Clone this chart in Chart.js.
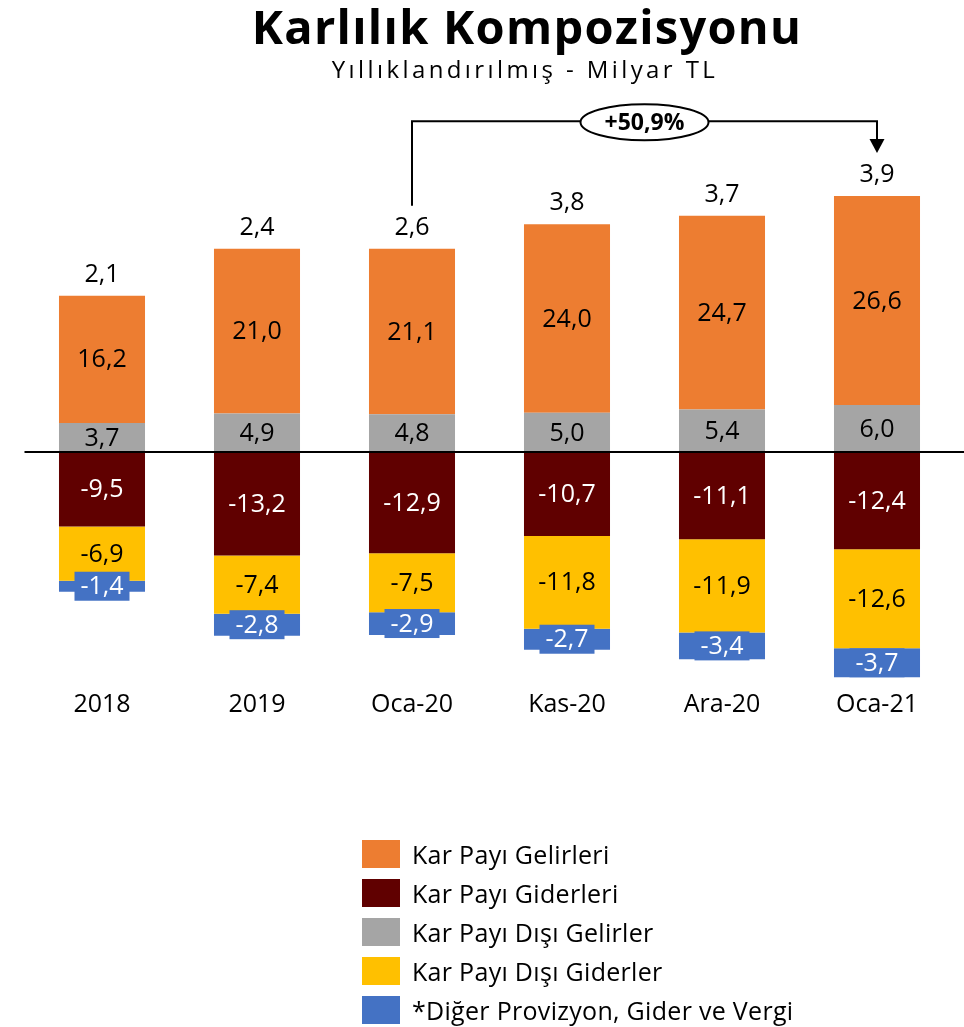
<!DOCTYPE html>
<html>
<head>
<meta charset="utf-8">
<script src="https://cdn.jsdelivr.net/npm/chart.js@4.4.1/dist/chart.umd.min.js"></script>
<style>
html,body{margin:0;padding:0;background:#fff;}
body{width:964px;height:1027px;position:relative;overflow:hidden;font-family:"Open Sans",sans-serif;color:#000;}
#c{position:absolute;left:0;top:0;}
#title{position:absolute;left:0;top:-1px;width:1054px;text-align:center;font-weight:bold;font-size:47px;line-height:54px;letter-spacing:1.3px;}
#subtitle{position:absolute;left:0;top:54px;width:1050px;text-align:center;font-size:24px;line-height:30px;letter-spacing:3.4px;}
#legend{position:absolute;left:362px;top:834px;}
.li{height:39px;display:flex;align-items:center;font-size:25px;letter-spacing:0.3px;white-space:nowrap;}
.sw{width:38px;height:28px;margin-right:12px;flex:none;}
</style>
</head>
<body>
<canvas id="c" width="964" height="1027"></canvas>
<div id="title">Karlılık Kompozisyonu</div>
<div id="subtitle">Yıllıklandırılmış - Milyar TL</div>
<div id="legend"></div>
<script>
const categories = ['2018', '2019', 'Oca-20', 'Kas-20', 'Ara-20', 'Oca-21'];
const karPayiGelirleri = [16.2, 21.0, 21.1, 24.0, 24.7, 26.6];
const karPayiDisiGelirler = [3.7, 4.9, 4.8, 5.0, 5.4, 6.0];
const karPayiGiderleri = [-9.5, -13.2, -12.9, -10.7, -11.1, -12.4];
const karPayiDisiGiderler = [-6.9, -7.4, -7.5, -11.8, -11.9, -12.6];
const digerProvizyon = [-1.4, -2.8, -2.9, -2.7, -3.4, -3.7];
const netKar = [2.1, 2.4, 2.6, 3.8, 3.7, 3.9];
const growthLabel = '+50,9%';
const growthFrom = 2, growthTo = 5;

const COLORS = {gel:'#ED7D31', gid:'#600000', dgel:'#A5A5A5', dgid:'#FFC000', dig:'#4472C4'};

const datasets = [
  {label:'Kar Payı Dışı Gelirler', data:karPayiDisiGelirler, backgroundColor:COLORS.dgel, textColor:'#000', legendOrder:2},
  {label:'Kar Payı Gelirleri', data:karPayiGelirleri, backgroundColor:COLORS.gel, textColor:'#000', legendOrder:0},
  {label:'Kar Payı Giderleri', data:karPayiGiderleri, backgroundColor:COLORS.gid, textColor:'#fff', legendOrder:1},
  {label:'Kar Payı Dışı Giderler', data:karPayiDisiGiderler, backgroundColor:COLORS.dgid, textColor:'#000', legendOrder:3},
  {label:'*Diğer Provizyon, Gider ve Vergi', data:digerProvizyon, backgroundColor:COLORS.dig, textColor:'#fff', legendOrder:4, boxed:true}
];

const fmt = v => v.toFixed(1).replace('.', ',');
const FONT = '"Open Sans", sans-serif';

const labelPlugin = {
  id: 'customLabels',
  afterDatasetsDraw(chart) {
    const ctx = chart.ctx, area = chart.chartArea;
    const ys = chart.scales.y;
    ctx.save();
    // zero line
    const y0 = ys.getPixelForValue(0);
    ctx.strokeStyle = '#000'; ctx.lineWidth = 2;
    ctx.beginPath(); ctx.moveTo(area.left, y0); ctx.lineTo(chart.width, y0); ctx.stroke();

    ctx.textAlign = 'center'; ctx.textBaseline = 'middle';
    ctx.font = '25px ' + FONT;
    chart.data.datasets.forEach((ds, di) => {
      const meta = chart.getDatasetMeta(di);
      meta.data.forEach((el, i) => {
        const cy = (el.y + el.base) / 2;
        if (ds.boxed) {
          ctx.fillStyle = ds.backgroundColor;
          ctx.fillRect(el.x - 27.5, cy - 14.5, 55, 29);
        }
        ctx.fillStyle = ds.textColor;
        ctx.fillText(fmt(ds.data[i]), el.x, cy + 1);
      });
    });
    // totals
    const topMeta = chart.getDatasetMeta(1);
    ctx.fillStyle = '#000';
    topMeta.data.forEach((el, i) => {
      ctx.fillText(fmt(netKar[i]), el.x, el.y - 21);
    });
    // growth annotation
    const a = topMeta.data[growthFrom], b = topMeta.data[growthTo];
    const lineY = area.top - 56;
    const yA = a.y - 43, yB = b.y - 43;
    ctx.lineWidth = 2; ctx.strokeStyle = '#000';
    ctx.beginPath();
    ctx.moveTo(a.x, yA); ctx.lineTo(a.x, lineY); ctx.lineTo(b.x, lineY); ctx.lineTo(b.x, yB - 13);
    ctx.stroke();
    ctx.fillStyle = '#000';
    ctx.beginPath();
    ctx.moveTo(b.x - 7.5, yB - 14); ctx.lineTo(b.x + 7.5, yB - 14); ctx.lineTo(b.x, yB); ctx.closePath(); ctx.fill();
    const ex = (a.x + b.x) / 2;
    ctx.beginPath(); ctx.ellipse(ex, lineY + 1, 64, 18, 0, 0, Math.PI * 2);
    ctx.fillStyle = '#fff'; ctx.fill(); ctx.lineWidth = 2; ctx.stroke();
    ctx.fillStyle = '#000'; ctx.font = 'bold 23px ' + FONT;
    ctx.fillText(growthLabel, ex, lineY + 2);
    ctx.restore();
  }
};

new Chart(document.getElementById('c'), {
  type: 'bar',
  data: {labels: categories, datasets: datasets.map(d => Object.assign({borderWidth:0, barPercentage:0.555, categoryPercentage:1.0}, d))},
  options: {
    responsive: false, animation: false, devicePixelRatio: 1,
    layout: {padding: {left: 24.5, right: 9.5, top: 177.25, bottom: 299.5}},
    plugins: {legend: {display: false}, tooltip: {enabled: false}, title: {display: false}},
    scales: {
      x: {stacked: true, grid: {display: false, drawTicks: false}, border: {display: false},
          ticks: {color: '#000', font: {size: 25, family: FONT}, padding: 2},
          afterFit(s) { s.height = 40; }},
      y: {stacked: true, display: false, min: -30, max: 35}
    }
  },
  plugins: [labelPlugin]
});

// HTML legend
const lg = document.getElementById('legend');
datasets.slice().sort((p, q) => p.legendOrder - q.legendOrder).forEach(d => {
  const row = document.createElement('div'); row.className = 'li';
  const sw = document.createElement('span'); sw.className = 'sw'; sw.style.background = d.backgroundColor;
  const tx = document.createElement('span'); tx.textContent = d.label;
  row.appendChild(sw); row.appendChild(tx); lg.appendChild(row);
});
</script>
</body>
</html>
